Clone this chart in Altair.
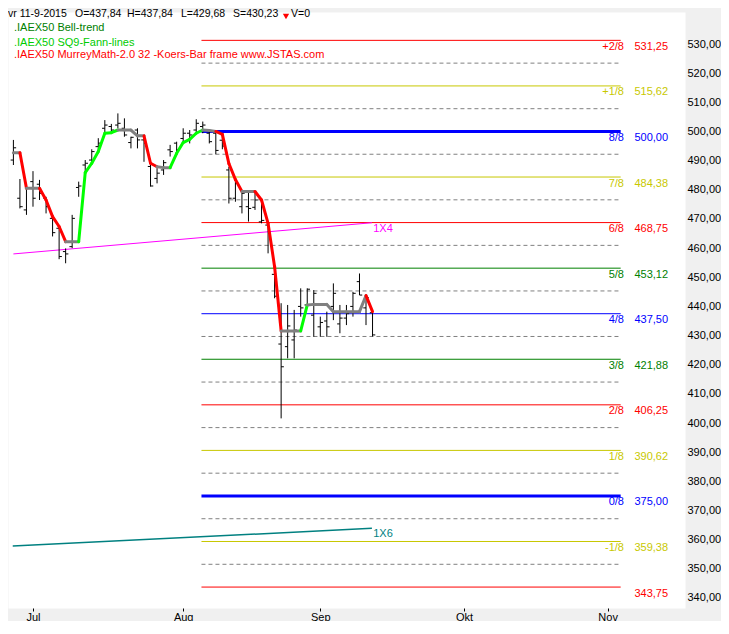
import altair as alt
import pandas as pd

# ---------------- data ----------------
months = ["Jul", "Aug", "Sep", "Okt", "Nov"]
month_start_bar = [3, 26, 47, 69, 91]          # trading-bar index of first day of month

bar_open = [490.2, 477.1, 473.1, 482.8, 481.9, 477.1, 470.2, 466.8, 458.8, 460.5,
            480.8, 488.5, 490.2, 494.8, 501.1, 501.7, 502.2, 501.1, 496.2, 500.5,
            497.1, 488.0, 483.9, 486.8, 493.7, 496.0, 497.6, 499.4, 500.5, 501.7,
            499.4, 499.4, 497.0, 486.8, 477.1, 474.2, 474.2, 474.0, 469.0, 467.9,
            451.0, 427.1, 426.2, 428.5, 440.0, 440.5, 437.0, 433.0, 435.0, 440.0,
            434.0, 436.0, 440.0, 448.5, 439.5, 437.84]
bar_high = [497.1, 483.7, 482.2, 486.4, 483.4, 477.6, 471.4, 467.4, 459.9, 471.4,
            482.8, 490.2, 493.9, 497.7, 503.9, 502.6, 506.2, 504.5, 498.2, 501.1,
            497.7, 488.5, 487.4, 490.2, 495.4, 496.5, 501.1, 500.5, 504.2, 503.4,
            499.9, 499.9, 499.4, 487.9, 483.4, 479.4, 479.4, 479.4, 476.5, 467.9,
            453.1, 441.1, 440.5, 438.8, 446.2, 446.2, 445.6, 436.5, 438.2, 447.9,
            440.5, 440.5, 445.0, 451.3, 443.3, 437.84]
bar_low = [488.5, 473.6, 471.4, 474.2, 476.5, 471.9, 464.0, 456.2, 454.8, 460.0,
           477.6, 486.2, 489.1, 492.5, 499.4, 499.4, 501.1, 498.2, 494.2, 494.2,
           489.6, 481.1, 482.2, 485.1, 491.4, 491.9, 495.9, 495.9, 499.4, 499.4,
           495.9, 492.2, 493.9, 475.3, 475.9, 471.9, 469.1, 473.1, 468.5, 458.2,
           442.8, 401.6, 422.2, 422.2, 436.5, 440.0, 429.6, 429.6, 429.6, 435.3,
           430.8, 433.6, 436.5, 443.9, 433.6, 429.68]
bar_close = [494.4, 474.2, 480.5, 477.1, 478.8, 474.2, 465.3, 457.1, 458.0, 470.2,
             481.3, 489.1, 493.1, 496.0, 502.2, 500.5, 502.8, 498.8, 498.0, 497.1,
             496.0, 481.3, 485.7, 489.3, 493.1, 493.7, 499.4, 498.8, 502.8, 502.2,
             496.5, 493.5, 495.0, 477.1, 482.2, 478.8, 473.6, 476.5, 469.5, 465.0,
             443.5, 419.3, 433.3, 431.9, 439.5, 445.9, 444.5, 434.5, 433.0, 444.5,
             436.0, 437.5, 444.5, 443.9, 443.0, 430.23]

# Bell-trend value per bar and state of the segment that ends at that bar
trend_value = [492.7, 492.7, 480.5, 480.5, 480.5, 476.5, 470.8, 467.4, 462.2, 462.2,
               462.2, 485.9, 489.1, 493.1, 499.4, 499.6, 500.5, 500.5, 500.5, 498.5,
               498.5, 489.1, 487.9, 487.6, 487.6, 492.5, 496.2, 497.3, 499.4, 500.5,
               500.3, 500.0, 499.0, 489.0, 483.5, 479.4, 479.4, 479.4, 476.5, 468.5,
               453.6, 431.6, 431.6, 431.6, 431.6, 440.5, 440.7, 440.7, 440.7, 438.2,
               438.2, 438.2, 438.2, 438.2, 443.7, 438.2]
trend_state = ["", "flat", "down", "flat", "flat", "down", "down", "down", "down", "flat",
               "flat", "up", "up", "up", "up", "up", "up", "flat", "flat", "flat",
               "flat", "down", "down", "flat", "flat", "up", "up", "up", "up", "up",
               "flat", "flat", "down", "down", "down", "down", "flat", "flat", "down", "down",
               "down", "down", "flat", "flat", "flat", "up", "flat", "flat", "flat", "flat",
               "flat", "flat", "flat", "flat", "flat", "down"]

murrey_levels = [531.25, 515.62, 500.00, 484.38, 468.75, 453.12, 437.50,
                 421.88, 406.25, 390.62, 375.00, 359.38, 343.75]
murrey_fraction = ["+2/8", "+1/8", "8/8", "7/8", "6/8", "5/8", "4/8",
                   "3/8", "2/8", "1/8", "0/8", "-1/8", ""]
murrey_mid = [523.44, 507.81, 492.19, 476.56, 460.94, 445.31,
              429.69, 414.06, 398.44, 382.81, 367.19, 351.56]

fan_names = ["1X4", "1X6"]
fan_start_bar = [0.0, -0.1]
fan_end_bar = [54.9, 54.9]
fan_start_value = [458.0, 357.8]
fan_end_value = [468.7, 363.9]
fan_label_value = [466.6, 361.8]

header_texts = ["vr 11-9-2015", "O=437,84", "H=437,84", "L=429,68", "S=430,23", "V=0"]
legend_lines = [".IAEX50  Bell-trend", ".IAEX50 SQ9-Fann-lines",
                ".IAEX50 MurreyMath-2.0  32 -Koers-Bar frame www.JSTAS.com"]

# ---------------- styles / layout ----------------
FONT = "Liberation Sans"
RED, OLIVE, BLUE, GREEN = "#ff0000", "#c8c800", "#0000ff", "#008000"
murrey_color = [RED, OLIVE, BLUE, OLIVE, RED, GREEN, BLUE, GREEN, RED, OLIVE, BLUE, OLIVE, RED]
murrey_width = [1, 1, 3, 1, 1, 1, 1, 1, 1, 1, 3, 1, 1]
fan_color = ["#ff00ff", "#008080"]
fan_width = [1, 1.5]
trend_color = {"up": "#00ff00", "down": "#ff0000", "flat": "#808080"}
legend_color = [GREEN, "#00cc00", RED]

LEVEL_START, LEVEL_END, DASH_END = 28.8, 93.0, 92.7
FRAC_X, VALUE_X, FAN_LABEL_X = 93.5, 95.1, 55.1
TICK = 0.42

header_px = [0, 67, 119, 173, 225, 283]
TRI_X = 278
legend_py = [19.0, 34.0, 45.7]

W, H = 677, 596
xscale = alt.Scale(domain=[-0.827, 102.85], nice=False, zero=False)
yscale = alt.Scale(domain=[336.57, 540.975], nice=False, zero=False)

label_expr = " : ".join(f"datum.value == {b} ? '{m}'" for b, m in zip(month_start_bar, months)) + " : ''"
xaxis = alt.Axis(values=month_start_bar, labelExpr=label_expr, title=None, grid=False,
                 domain=False, ticks=True, tickSize=3, tickColor="#000000", tickWidth=1,
                 labelColor="#000000", labelFont=FONT, labelFontSize=11, labelPadding=0,
                 labelFlush=False, labelOverlap=False)
yaxis = alt.Axis(orient="right", values=list(range(340, 531, 10)),
                 labelExpr="replace(format(datum.value, '.2f'), '.', ',')",
                 title=None, grid=False, domain=False, ticks=False, tickSize=0,
                 labelPadding=2, labelColor="#000000", labelFont=FONT, labelFontSize=11,
                 labelAlign="left", labelBaseline="middle", labelFlush=False, labelOverlap=False)


def X(f):
    return alt.X(f, type="quantitative", scale=xscale, axis=xaxis)


def Y(f):
    return alt.Y(f, type="quantitative", scale=yscale, axis=yaxis)


# ---------------- tables ----------------
n = len(bar_open)
bars = pd.DataFrame({"i": list(range(n)), "o": bar_open, "h": bar_high,
                     "l": bar_low, "c": bar_close})

seg = pd.DataFrame({
    "x": list(range(n - 1)), "x2": list(range(1, n)),
    "y": trend_value[:-1], "y2": trend_value[1:],
    "color": [trend_color[s] for s in trend_state[1:]],
})

levels = pd.DataFrame({
    "v": murrey_levels, "frac": murrey_fraction,
    "lab": [f"{v:.2f}".replace(".", ",") for v in murrey_levels],
    "color": murrey_color, "w": murrey_width,
})
levels["xs"] = LEVEL_START
levels["xe"] = LEVEL_END
levels["fx"] = FRAC_X
levels["vx"] = VALUE_X

mids = pd.DataFrame({"v": murrey_mid})
mids["xs"] = LEVEL_START
mids["xe"] = DASH_END

fans = pd.DataFrame({"name": fan_names, "x": fan_start_bar, "x2": fan_end_bar,
                     "y": fan_start_value, "y2": fan_end_value, "ly": fan_label_value,
                     "color": fan_color, "w": fan_width})
fans["lx"] = FAN_LABEL_X

header = pd.DataFrame({"t": header_texts, "px": header_px})
legend = pd.DataFrame({"t": legend_lines, "py": legend_py, "color": legend_color})

# ---------------- layers ----------------
mid_layer = alt.Chart(mids).mark_rule(color="#808080", strokeWidth=1, strokeDash=[4, 3]).encode(
    x=X("xs"), x2="xe", y=Y("v"))

level_layer = alt.Chart(levels).mark_rule().encode(
    x=X("xs"), x2="xe", y=Y("v"),
    color=alt.Color("color:N", scale=None),
    strokeWidth=alt.StrokeWidth("w:Q", scale=None))

frac_text = alt.Chart(levels).mark_text(align="right", baseline="middle", dy=6.5,
                                        font=FONT, fontSize=11).encode(
    x=X("fx"), y=Y("v"), text="frac:N", color=alt.Color("color:N", scale=None))

value_text = alt.Chart(levels).mark_text(align="left", baseline="middle", dy=6.5,
                                         font=FONT, fontSize=11).encode(
    x=X("vx"), y=Y("v"), text="lab:N", color=alt.Color("color:N", scale=None))

fan_layer = alt.Chart(fans).mark_rule().encode(
    x=X("x"), x2="x2", y=Y("y"), y2="y2",
    color=alt.Color("color:N", scale=None),
    strokeWidth=alt.StrokeWidth("w:Q", scale=None))

fan_text = alt.Chart(fans).mark_text(align="left", baseline="middle", font=FONT, fontSize=11).encode(
    x=X("lx"), y=Y("ly"), text="name:N", color=alt.Color("color:N", scale=None))

hl_layer = alt.Chart(bars).mark_rule(color="#000000", strokeWidth=1).encode(
    x=X("i"), y=Y("l"), y2="h")

open_layer = alt.Chart(bars).transform_calculate(xa=f"datum.i - {TICK}").mark_rule(
    color="#000000", strokeWidth=1).encode(x=X("xa:Q"), x2="i:Q", y=Y("o"))

close_layer = alt.Chart(bars).transform_calculate(xb=f"datum.i + {TICK}").mark_rule(
    color="#000000", strokeWidth=1).encode(x=X("i"), x2="xb:Q", y=Y("c"))

trend_layer = alt.Chart(seg).mark_rule(strokeWidth=3, strokeCap="round").encode(
    x=X("x"), x2="x2", y=Y("y"), y2="y2", color=alt.Color("color:N", scale=None))

header_layer = alt.Chart(header).mark_text(align="left", baseline="top",
                                           font=FONT, fontSize=10.5, color="#000000").encode(
    x=alt.X("px:Q", scale=None), y=alt.value(-3.5), text="t:N")

tri_layer = alt.Chart(header.head(1)).mark_point(shape="triangle-down", filled=True,
                                                 color="#ff0000", size=40, opacity=1).encode(
    x=alt.value(TRI_X), y=alt.value(4.5))

legend_layer = alt.Chart(legend).mark_text(align="left", baseline="alphabetic",
                                           font=FONT, fontSize=11).encode(
    x=alt.value(6), y=alt.Y("py:Q", scale=None), text="t:N",
    color=alt.Color("color:N", scale=None))

chart = alt.layer(
    mid_layer, level_layer, frac_text, value_text, fan_layer, fan_text,
    hl_layer, open_layer, close_layer, trend_layer,
    header_layer, tri_layer, legend_layer,
).properties(
    width=W, height=H,
    padding={"left": 0, "top": 4, "right": 36, "bottom": 13},
    autosize=alt.AutoSizeParams(type="none"),
    background="#f0f0f0",
).configure_view(fill="#ffffff", stroke="transparent")

chart.save("out.html", embed_options={"renderer": "svg", "actions": False})
